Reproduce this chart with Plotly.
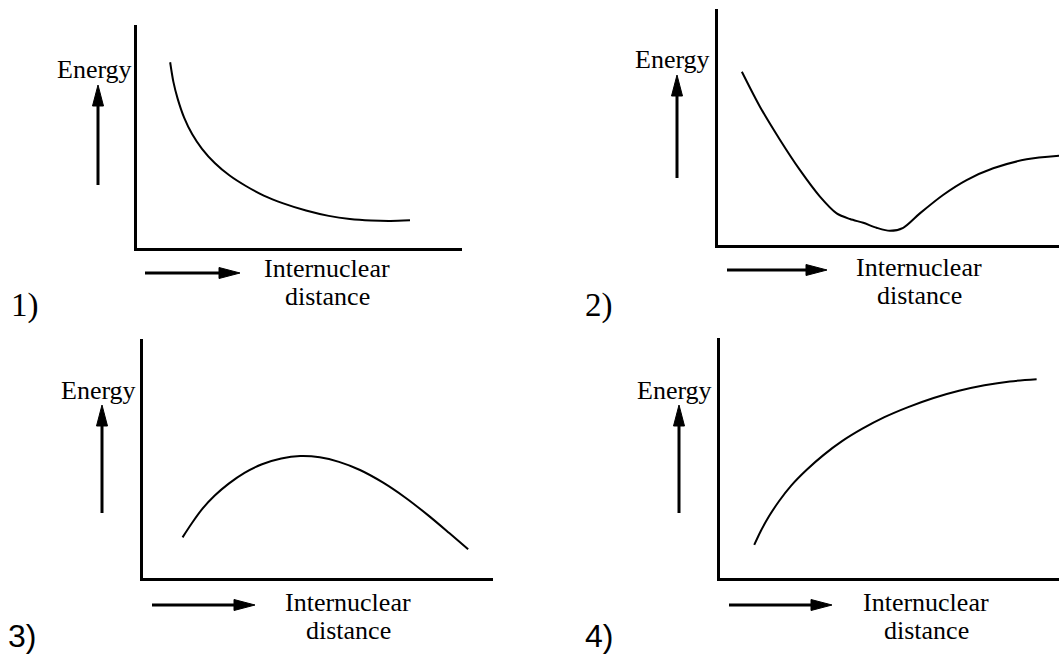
import plotly.graph_objects as go

W, H = 1059, 654

# --- data (arbitrary units, 0-10 on each axis) ---
dist_1 = [1.02, 1.12, 1.25, 1.45, 1.70, 2.00, 2.40, 2.85, 3.35, 3.90, 4.50, 5.20,
          5.90, 6.55, 7.20, 7.80, 8.40]
energy_1 = [8.33, 7.45, 6.70, 5.85, 5.10, 4.45, 3.80, 3.25, 2.78, 2.35, 2.00, 1.68,
            1.44, 1.30, 1.23, 1.21, 1.24]

dist_2 = [0.70, 1.23, 1.82, 2.40, 2.99, 3.48, 3.87, 4.26, 4.65, 5.04, 5.43,
          5.92, 6.60, 7.29, 8.07, 9.05, 10.0]
energy_2 = [7.34, 5.86, 4.45, 3.18, 2.05, 1.34, 1.10, 0.94, 0.73, 0.60, 0.73,
            1.34, 2.12, 2.75, 3.25, 3.63, 3.78]

dist_3 = [1.13, 1.40, 1.70, 2.05, 2.45, 2.90, 3.40, 3.95, 4.49, 5.05, 5.60, 6.20,
          6.85, 7.50, 8.15, 8.75, 9.29]
energy_3 = [1.70, 2.30, 2.90, 3.45, 3.95, 4.40, 4.76, 5.00, 5.10, 5.05, 4.86, 4.52,
            4.00, 3.36, 2.62, 1.88, 1.20]

dist_4 = [1.01, 1.20, 1.45, 1.75, 2.10, 2.55, 3.05, 3.60, 4.20, 4.85, 5.55, 6.30,
          7.05, 7.80, 8.55, 9.34]
energy_4 = [1.38, 1.95, 2.58, 3.22, 3.85, 4.50, 5.12, 5.70, 6.22, 6.70, 7.12, 7.50,
            7.80, 8.03, 8.19, 8.28]

labels = ["1)", "2)", "3)", "4)"]
y_title = "Energy"
x_title = ["Internuclear", "distance"]

# --- layout in page pixels: axis box (left, top, right, bottom) ---
boxes = [(137, 25, 462, 248), (718, 9, 1059, 245), (143, 339, 493, 578), (720, 338, 1059, 578)]
energy_pos = [(94.5, 69.5), (672.5, 59.5), (98, 390.5), (674, 390.5)]
xtitle_pos = [(327, 268, 296), (919, 267.5, 295.5), (348, 602.5, 630.5), (926, 602.5, 630.5)]
num_pos = [(25, 305), (599, 305), (22, 636), (599, 636)]
num_size = [33, 33, 32, 32]
num_font = ["Liberation Serif", "Liberation Serif", "Liberation Sans", "Liberation Sans"]
# up arrow (x, tail y, tip y), right arrow (y, tail x, tip x)
up_arrows = [(98, 185, 85), (677, 178, 75), (102, 513, 405), (679, 513, 405)]
right_arrows = [(273, 145, 240), (270, 727, 827), (605, 152, 255), (605, 729, 832)]

series = [(dist_1, energy_1), (dist_2, energy_2), (dist_3, energy_3), (dist_4, energy_4)]


def px(x):
    return x / W


def py(y):
    return 1 - y / H


fig = go.Figure()
layout = {}
for i, ((xs, ys), box) in enumerate(zip(series, boxes), start=1):
    sx = "" if i == 1 else str(i)
    fig.add_trace(go.Scatter(
        x=xs, y=ys, mode="lines", line=dict(color="black", width=2, shape="spline", smoothing=0.8),
        xaxis="x" + sx, yaxis="y" + sx, showlegend=False, hoverinfo="skip",
    ))
    l, t, r, b = box
    common = dict(showline=True, linecolor="black", linewidth=3, showgrid=False,
                  zeroline=False, showticklabels=False, ticks="", fixedrange=True)
    layout["xaxis" + sx] = dict(domain=[px(l), px(r)], range=[0, 10],
                                anchor="y" + sx, **common)
    layout["yaxis" + sx] = dict(domain=[py(b), py(t)], range=[0, 10],
                                anchor="x" + sx, **common)

# overlay axis in page pixels for the decorative arrows
layout["xaxis5"] = dict(domain=[0, 1], range=[0, W], visible=False, anchor="y5", fixedrange=True)
layout["yaxis5"] = dict(domain=[0, 1], range=[H, 0], visible=False, anchor="x5", fixedrange=True)

shapes = []
HEAD_L, HEAD_W = 21, 5.5
for (x, y0, y1) in up_arrows:
    shapes.append(dict(type="line", xref="x5", yref="y5", x0=x, x1=x, y0=y0, y1=y1 + HEAD_L - 2,
                       line=dict(color="black", width=3)))
    shapes.append(dict(type="path", xref="x5", yref="y5",
                       path=f"M{x},{y1} L{x - HEAD_W},{y1 + HEAD_L} L{x + HEAD_W},{y1 + HEAD_L} Z",
                       fillcolor="black", line=dict(color="black", width=1)))
for (y, x0, x1) in right_arrows:
    shapes.append(dict(type="line", xref="x5", yref="y5", x0=x0, x1=x1 - HEAD_L + 2, y0=y, y1=y,
                       line=dict(color="black", width=3)))
    shapes.append(dict(type="path", xref="x5", yref="y5",
                       path=f"M{x1},{y} L{x1 - HEAD_L},{y - HEAD_W} L{x1 - HEAD_L},{y + HEAD_W} Z",
                       fillcolor="black", line=dict(color="black", width=1)))

annotations = []
serif = dict(family="Liberation Serif, Times New Roman, serif", size=26, color="black")
for i in range(4):
    ex, ey = energy_pos[i]
    annotations.append(dict(text=y_title, x=px(ex), y=py(ey), xref="paper", yref="paper",
                            showarrow=False, xanchor="center", yanchor="middle", font=serif))
    tx, t1, t2 = xtitle_pos[i]
    annotations.append(dict(text=x_title[0], x=px(tx), y=py(t1), xref="paper", yref="paper",
                            showarrow=False, xanchor="center", yanchor="middle", font=serif))
    annotations.append(dict(text=x_title[1], x=px(tx), y=py(t2), xref="paper", yref="paper",
                            showarrow=False, xanchor="center", yanchor="middle", font=serif))
    nx, ny = num_pos[i]
    annotations.append(dict(text=labels[i], x=px(nx), y=py(ny), xref="paper", yref="paper",
                            showarrow=False, xanchor="center", yanchor="middle",
                            font=dict(family=num_font[i], size=num_size[i], color="black")))

fig.update_layout(
    width=W, height=H, margin=dict(l=0, r=0, t=0, b=0),
    paper_bgcolor="white", plot_bgcolor="rgba(0,0,0,0)",
    shapes=shapes, annotations=annotations, **layout,
)

fig.write_html("out.html", config={"displayModeBar": False},
               post_script="document.body.style.margin='0';")
